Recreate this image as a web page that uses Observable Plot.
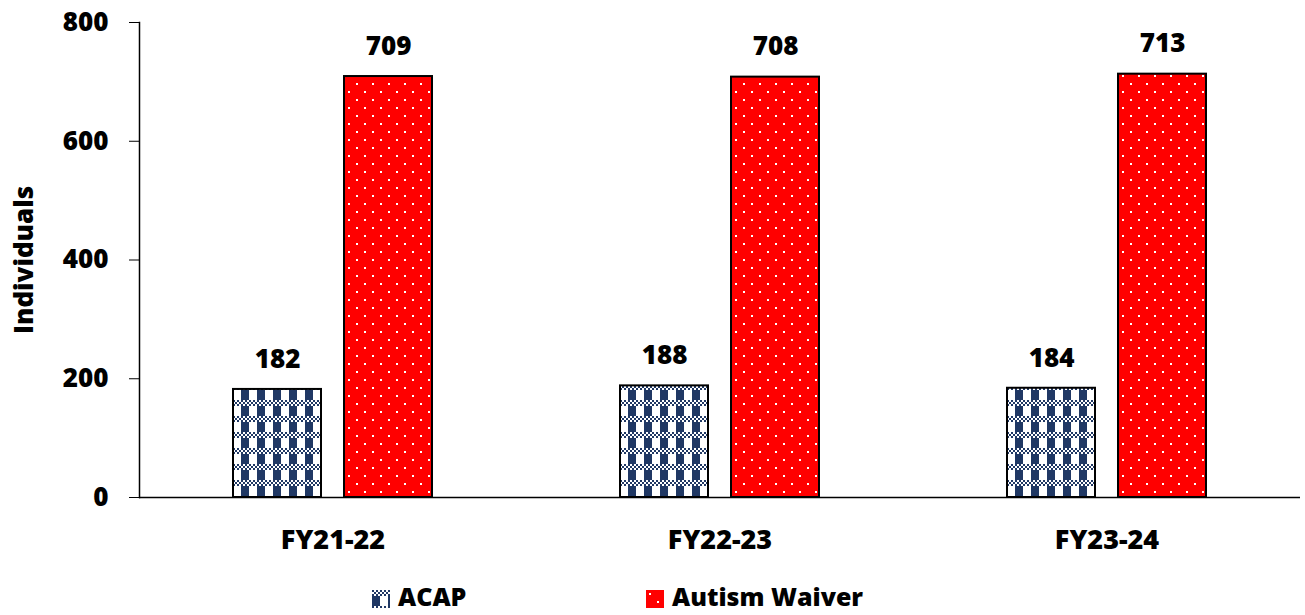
<!DOCTYPE html>
<html>
<head>
<meta charset="utf-8">
<script src="https://cdn.jsdelivr.net/npm/d3@7"></script>
<script src="https://cdn.jsdelivr.net/npm/@observablehq/plot@0.6"></script>
<style>
  html, body { margin: 0; padding: 0; background: #fff; }
  #chart { width: 1305px; height: 615px; position: relative; overflow: hidden; font-family: "Open Sans", sans-serif; }
  #legend { position: relative; height: 40px; font-family: "Open Sans", sans-serif; font-weight: 800; font-size: 25px; color: #000; }
  .item { position: absolute; top: 0; height: 40px; }
  .item svg { position: absolute; left: 0; top: 15px; }
  .item span { position: absolute; left: 26px; top: 9px; line-height: 25px; white-space: nowrap; }
</style>
</head>
<body>
<div id="chart"></div>
<script>
const categories = ["FY21-22", "FY22-23", "FY23-24"];
const series = ["ACAP", "Autism Waiver"];
const acapValues = [182, 188, 184];
const autismWaiverValues = [709, 708, 713];
const yTicks = [0, 200, 400, 600, 800];

const data = [];
categories.forEach((c, i) => {
  data.push({cat: c, series: series[0], value: acapValues[i]});
  data.push({cat: c, series: series[1], value: autismWaiverValues[i]});
});

const chart = Plot.plot({
  width: 1305,
  height: 575,
  marginLeft: 138,
  marginRight: 5,
  marginTop: 22,
  marginBottom: 78,
  style: {fontFamily: "Open Sans", fontWeight: 800, color: "#000", background: "#fff"},
  fx: {domain: categories, padding: 0, label: null},
  x: {domain: series, paddingInner: 0.207, paddingOuter: 0.846, axis: null},
  y: {domain: [0, 800]},
  color: {domain: series, range: ["url(#pAcap)", "url(#pAw)"]},
  marks: [
    Plot.barY(data, {fx: "cat", x: "series", y: "value", fill: "series", stroke: "#000", strokeWidth: 2}),
    Plot.ruleY([0], {stroke: "#000", strokeWidth: 1.5}),
    Plot.frame({anchor: "left", facetAnchor: "left", stroke: "#000", strokeWidth: 1.5}),
    Plot.text(data, {fx: "cat", x: "series", y: "value", text: d => String(d.value), dy: -30, fontSize: 26, fontWeight: 800, fill: "#000"}),
    Plot.axisY({ticks: yTicks, tickSize: 10, tickPadding: 21, fontSize: 26, fontWeight: 800, stroke: "#000",
      label: "Individuals", labelAnchor: "center", labelArrow: "none", labelOffset: 125}),
    Plot.axisFx({anchor: "bottom", tickSize: 0, tickPadding: 32, fontSize: 27, fontWeight: 800, label: null})
  ]
});

const defs = `
<pattern id="pAcap" patternUnits="userSpaceOnUse" width="16" height="16">
  <rect width="16" height="16" fill="#fff"/>
  <rect x="0" y="0" width="2" height="2" fill="#203864"/><rect x="4" y="0" width="2" height="2" fill="#203864"/>
  <rect x="8" y="0" width="2" height="2" fill="#203864"/><rect x="12" y="0" width="2" height="2" fill="#203864"/>
  <rect x="2" y="2" width="2" height="2" fill="#203864"/><rect x="6" y="2" width="2" height="2" fill="#203864"/>
  <rect x="10" y="2" width="2" height="2" fill="#203864"/><rect x="14" y="2" width="2" height="2" fill="#203864"/>
  <rect x="0" y="4" width="2" height="2" fill="#203864"/><rect x="4" y="4" width="2" height="2" fill="#203864"/>
  <rect x="8" y="4" width="2" height="2" fill="#203864"/><rect x="12" y="4" width="2" height="2" fill="#203864"/>
  <rect x="0" y="6" width="8" height="10" fill="#203864"/>
</pattern>
<pattern id="pAw" patternUnits="userSpaceOnUse" width="16" height="16">
  <rect width="16" height="16" fill="#ff0000"/>
  <rect x="3" y="3" width="2" height="2" fill="#fff"/>
  <rect x="11" y="11" width="2" height="2" fill="#fff"/>
</pattern>`;
d3.select(chart).insert("defs", ":first-child").html(defs);

const container = document.getElementById("chart");
container.appendChild(chart);

const legend = document.createElement("div");
legend.id = "legend";
const items = [{label: series[0], fill: "url(#pAcap)", left: 372}, {label: series[1], fill: "url(#pAw)", left: 646}];
for (const it of items) {
  const el = document.createElement("div");
  el.className = "item";
  el.style.left = it.left + "px";
  el.innerHTML = `<svg width="18" height="18"><rect width="18" height="18" fill="${it.fill}"/></svg><span>${it.label}</span>`;
  legend.appendChild(el);
}
container.appendChild(legend);
</script>
</body>
</html>
